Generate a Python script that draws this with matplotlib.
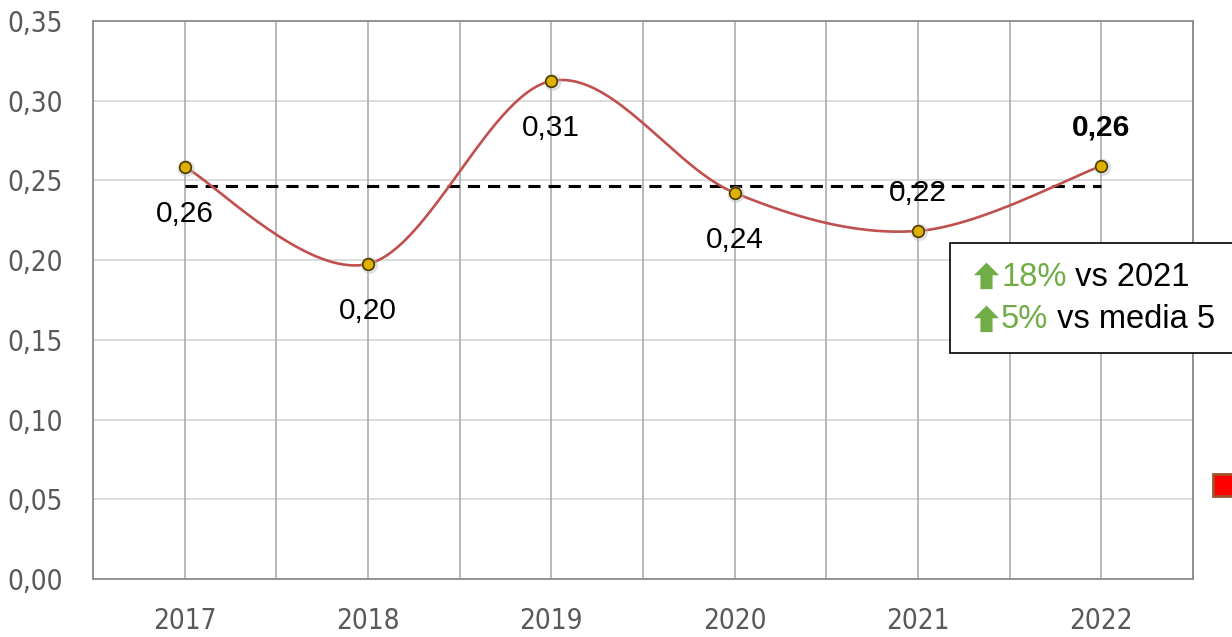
import numpy as np
import matplotlib
matplotlib.use("Agg")
import matplotlib.pyplot as plt
from matplotlib.patches import Rectangle
from matplotlib.path import Path
from matplotlib.lines import Line2D

years = ["2017", "2018", "2019", "2020", "2021", "2022"]
values = [0.2585, 0.1976, 0.3124, 0.2422, 0.2183, 0.2591]
labels = ["0,26", "0,20", "0,31", "0,24", "0,22", "0,26"]
label_below = [True, True, True, True, False, False]
media5 = 0.2466
yticks = [0.00, 0.05, 0.10, 0.15, 0.20, 0.25, 0.30, 0.35]

SANS = ["Liberation Sans", "DejaVu Sans"]


def smooth(xs, ys, n=40):
    # bezier smoothing like excel's "smoothed line"
    p = np.column_stack([xs, ys]).astype(float)
    ext = np.vstack([p[0], p, p[-1]])
    out = []
    for i in range(len(p) - 1):
        p0, p1, p2, p3 = ext[i], ext[i + 1], ext[i + 2], ext[i + 3]
        c1 = p1 + (p2 - p0) / 6
        c2 = p2 - (p3 - p1) / 6
        t = np.linspace(0, 1, n)[:, None]
        seg = (1 - t) ** 3 * p1 + 3 * (1 - t) ** 2 * t * c1 + 3 * (1 - t) * t ** 2 * c2 + t ** 3 * p2
        out.append(seg if i == 0 else seg[1:])
    out = np.vstack(out)
    return out[:, 0], out[:, 1]


fig = plt.figure(figsize=(12.32, 6.37), dpi=100)
ax = fig.add_axes([93 / 1232, 58 / 637, 1100 / 1232, 558 / 637])

x = np.arange(len(years))
ax.set_xlim(-0.5, len(years) - 0.5)
ax.set_ylim(0, 0.35)

# grid
for yv in yticks:
    ax.axhline(yv, color="#D9D9D9", lw=1.3, zorder=0)
for xv in np.arange(-0.5, len(years), 0.5):
    ax.axvline(xv, color="#A6A6A6", lw=1.1, zorder=0)
for s in ax.spines.values():
    s.set_color("#8C8C8C")
    s.set_linewidth(1.3)

ax.set_xticks(x)
ax.set_xticklabels(years)
ax.set_yticks(yticks)
ax.set_yticklabels([f"{v:.2f}".replace(".", ",") for v in yticks])
ax.tick_params(length=0, colors="#595959", labelsize=20)
for t in ax.get_xticklabels() + ax.get_yticklabels():
    t.set_family("DejaVu Sans")
    t.set_fontstretch("condensed")
ax.tick_params(axis="y", pad=21.5)
ax.tick_params(axis="x", pad=20)

# media line
ax.plot([x[0], x[-1]], [media5, media5], color="black", lw=2.2, ls=(0, (4, 2.6)), zorder=2)

sx, sy = smooth(x, values)
ax.plot(sx, sy, color="#C0504D", lw=1.9, zorder=3, solid_capstyle="round")

# marker shadow + marker
shift = matplotlib.transforms.ScaledTranslation(1.5 / 100, -1.5 / 100, fig.dpi_scale_trans)
ax.scatter(x, values, s=150, color="#BBBBBB", alpha=0.45, edgecolors="none", zorder=4,
           transform=ax.transData + shift)
ax.scatter(x, values, s=70, color="#E0B000", edgecolors="#4A3C00", linewidths=1.2, zorder=5)

for i, (v, lab) in enumerate(zip(values, labels)):
    dy = -47 if label_below[i] else 38
    bold = i == len(values) - 1
    ax.annotate(lab, (x[i], v), xytext=(0, dy), textcoords="offset pixels",
                ha="center", va="center", fontsize=21.5, family=SANS,
                fontweight="bold" if bold else "normal", color="black", zorder=6)

# comparison box
fig.add_artist(Rectangle((950 / 1232, (637 - 353) / 637), 300 / 1232, 110 / 637,
                         transform=fig.transFigure, fill=True, facecolor="white",
                         edgecolor="black", lw=1.2, clip_on=False, zorder=10))
green = "#70AD47"
arrow = Path([(-0.5, 0.05), (0, 0.55), (0.5, 0.05), (0.24, 0.05), (0.24, -0.5),
              (-0.24, -0.5), (-0.24, 0.05), (-0.5, 0.05)], closed=True)
rows = [("18%", " vs 2021", 277), ("5%", " vs media 5", 320)]
for pct, rest, ypix in rows:
    fig.add_artist(Line2D([986 / 1232], [1 - (ypix - 1) / 637], marker=arrow, markersize=20,
                          color=green, markeredgewidth=0, transform=fig.transFigure, zorder=11))
    b = fig.text(1001 / 1232, 1 - ypix / 637, pct, fontsize=23.5, color=green,
                 family=SANS, va="center", ha="left", zorder=11)
    fig.canvas.draw()
    bb = b.get_window_extent()
    fig.text(bb.x1 / 1232, 1 - ypix / 637, rest, fontsize=23.5, color="black",
             family=SANS, va="center", ha="left", zorder=11)

# legend marker fragment at right edge
fig.add_artist(Rectangle((1213 / 1232, (637 - 496) / 637), 24 / 1232, 22 / 637,
                         transform=fig.transFigure, facecolor="#FF0000",
                         edgecolor="#A0522D", lw=2, clip_on=False, zorder=10))

fig.savefig("out.png", dpi=100)
